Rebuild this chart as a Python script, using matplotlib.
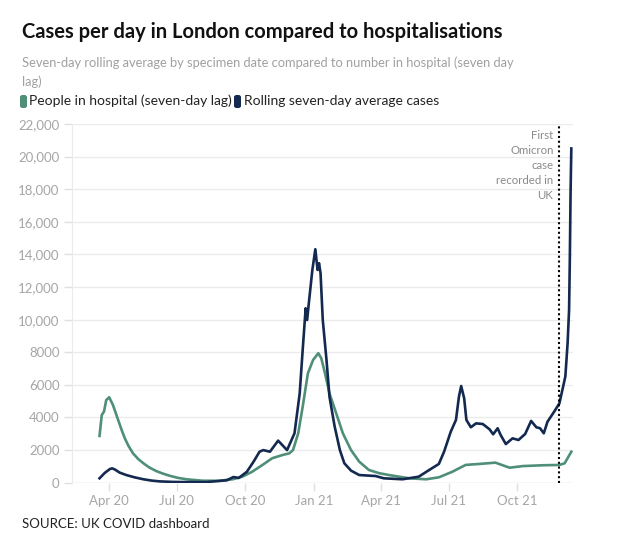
import numpy as np
import matplotlib
matplotlib.use("Agg")
import matplotlib.pyplot as plt
from matplotlib.patches import FancyBboxPatch
from matplotlib.ticker import FuncFormatter

plt.rcParams['font.family'] = ['Lato', 'DejaVu Sans']

# rolling seven-day average cases
case_dates = [
    '2020-03-19', '2020-03-26', '2020-04-02', '2020-04-05', '2020-04-09',
    '2020-04-15', '2020-04-24', '2020-05-05', '2020-05-17', '2020-05-28',
    '2020-06-08', '2020-06-25', '2020-07-10', '2020-08-10', '2020-09-06',
    '2020-09-15', '2020-09-22', '2020-10-03', '2020-10-12', '2020-10-20',
    '2020-10-25', '2020-11-03', '2020-11-14', '2020-11-26', '2020-12-06',
    '2020-12-13', '2020-12-17', '2020-12-21', '2020-12-23', '2020-12-25',
    '2020-12-30', '2021-01-03', '2021-01-06', '2021-01-08', '2021-01-10',
    '2021-01-13', '2021-01-18', '2021-01-22', '2021-01-29', '2021-02-05',
    '2021-02-11', '2021-02-20', '2021-03-03', '2021-03-25', '2021-04-05',
    '2021-04-30', '2021-05-22', '2021-06-05', '2021-06-18', '2021-06-25',
    '2021-07-04', '2021-07-11', '2021-07-15', '2021-07-18', '2021-07-22',
    '2021-07-25', '2021-07-31', '2021-08-07', '2021-08-16', '2021-08-25',
    '2021-08-30', '2021-09-05', '2021-09-09', '2021-09-16', '2021-09-25',
    '2021-10-03', '2021-10-12', '2021-10-20', '2021-10-27', '2021-11-01',
    '2021-11-06', '2021-11-11', '2021-11-20', '2021-11-27', '2021-12-03',
    '2021-12-05', '2021-12-08', '2021-12-10', '2021-12-11', '2021-12-12',
    '2021-12-13',
]
cases = [
    270, 600, 840, 880, 800,
    620, 470, 330, 210, 130,
    80, 50, 40, 40, 150,
    350, 290, 670, 1290, 1900,
    2000, 1900, 2580, 2000, 3030,
    5480, 8140, 10700, 9980, 10900,
    13050, 14320, 13050, 13460, 12850,
    9980, 7530, 5280, 3440, 2000,
    1190, 740, 470, 410, 270,
    210, 370, 780, 1150, 1900,
    3130, 3850, 5280, 5930, 5180,
    3850, 3400, 3640, 3600, 3280,
    2970, 3340, 2930, 2370, 2720,
    2620, 2990, 3790, 3400, 3340,
    3030, 3740, 4360, 4870, 6100,
    6520, 8550, 10600, 13660, 17770,
    20500,
]

# people in hospital, seven-day lag
hosp_dates = [
    '2020-03-19', '2020-03-22', '2020-03-25', '2020-03-28', '2020-04-01',
    '2020-04-06', '2020-04-13', '2020-04-18', '2020-04-22', '2020-04-27',
    '2020-05-03', '2020-05-10', '2020-05-17', '2020-05-25', '2020-06-03',
    '2020-06-12', '2020-06-21', '2020-07-02', '2020-07-14', '2020-08-05',
    '2020-08-27', '2020-09-14', '2020-09-27', '2020-10-10', '2020-10-24',
    '2020-11-06', '2020-11-20', '2020-11-29', '2020-12-04', '2020-12-11',
    '2020-12-17', '2020-12-24', '2020-12-31', '2021-01-07', '2021-01-11',
    '2021-01-16', '2021-01-22', '2021-01-31', '2021-02-09', '2021-02-20',
    '2021-03-03', '2021-03-16', '2021-03-30', '2021-04-12', '2021-05-09',
    '2021-06-01', '2021-06-18', '2021-07-06', '2021-07-24', '2021-08-11',
    '2021-09-02', '2021-09-21', '2021-10-09', '2021-11-05', '2021-11-27',
    '2021-12-04', '2021-12-13',
]
hospital = [
    2870, 4150, 4360, 5070, 5240,
    4770, 3850, 3200, 2720, 2250,
    1800, 1450, 1190, 930, 720,
    560, 430, 300, 210, 120,
    120, 210, 370, 670, 1090,
    1500, 1700, 1800, 2000, 3030,
    4660, 6710, 7530, 7940, 7630,
    6710, 5480, 4260, 3030, 2000,
    1290, 780, 580, 470, 270,
    210, 330, 670, 1090, 1150,
    1230, 920, 1020, 1070, 1090,
    1190, 1900,
]

tick_dates = ['2020-04-01', '2020-07-01', '2020-10-01', '2021-01-01',
              '2021-04-01', '2021-07-01', '2021-10-01']
tick_labels = ['Apr 20', 'Jul 20', 'Oct 20', 'Jan 21', 'Apr 21', 'Jul 21', 'Oct 21']
omicron_date = '2021-11-27'

GREEN = '#4f8f78'
NAVY = '#13294f'
GREY = '#a6a6a6'

fig = plt.figure(figsize=(6.4, 5.42), dpi=100)
ax = fig.add_axes([0.1125, 0.1094, 0.7825, 0.6618])

ax.plot(np.array(hosp_dates, dtype='datetime64[D]'), hospital,
        color=GREEN, lw=1.9, solid_joinstyle='round', zorder=3)
ax.plot(np.array(case_dates, dtype='datetime64[D]'), cases,
        color=NAVY, lw=1.9, solid_joinstyle='round', zorder=4)

ax.axvline(np.datetime64(omicron_date), color='black', lw=1.5,
           linestyle=(0, (1, 1.3)), zorder=5)
ax.text(np.datetime64('2021-11-19'), 21650,
        'First\nOmicron\ncase\nrecorded in\nUK',
        ha='right', va='top', color='#8a8a8a', fontsize=8.2, linespacing=1.45)

ax.set_xlim(np.datetime64('2020-02-11'), np.datetime64('2021-12-15'))
ax.set_ylim(0, 22000)
ax.set_yticks(np.arange(0, 22001, 2000))
ax.yaxis.set_major_formatter(FuncFormatter(
    lambda v, p: '{:,.0f}'.format(v) if v >= 10000 else '{:.0f}'.format(v)))
ax.set_xticks(np.array(tick_dates, dtype='datetime64[D]'))
ax.set_xticklabels(tick_labels)

ax.grid(True, axis='y', color='#ebebeb', lw=1)
for side in ['top', 'right', 'bottom']:
    ax.spines[side].set_visible(False)
ax.spines['left'].set_color('#ebebeb')
ax.tick_params(axis='both', colors='#e0e0e0', labelcolor=GREY, labelsize=9.5,
               length=6, width=1)
ax.tick_params(axis='y', pad=3)
ax.tick_params(axis='x', pad=3)
ax.axhline(0, color='#e8e8e8', lw=1, zorder=1)

fig.text(22 / 640, 1 - 32 / 542, 'Cases per day in London compared to hospitalisations',
         fontsize=14.5, fontweight='bold', color='#111111', va='center')
fig.text(22 / 640, 1 - 72 / 542,
         'Seven-day rolling average by specimen date compared to number in hospital (seven day\nlag)',
         fontsize=9.3, color='#a0a0a0', va='center', linespacing=1.6)

# legend with rounded swatches
for x0, col in [(20, GREEN), (234, NAVY)]:
    fig.patches.append(FancyBboxPatch(
        (x0 / 640, 1 - 108 / 542), 7 / 640, 13 / 542,
        boxstyle='round,pad=0,rounding_size=0.004', transform=fig.transFigure,
        facecolor=col, edgecolor='none'))
fig.text(29 / 640, 1 - 101 / 542, 'People in hospital (seven-day lag)',
         fontsize=10, color='#222222', va='center')
fig.text(244 / 640, 1 - 101 / 542, 'Rolling seven-day average cases',
         fontsize=10, color='#222222', va='center')

fig.text(22 / 640, 1 - 524 / 542, 'SOURCE: UK COVID dashboard',
         fontsize=9.5, color='#222222', va='center')

fig.savefig('out.png', dpi=100)
